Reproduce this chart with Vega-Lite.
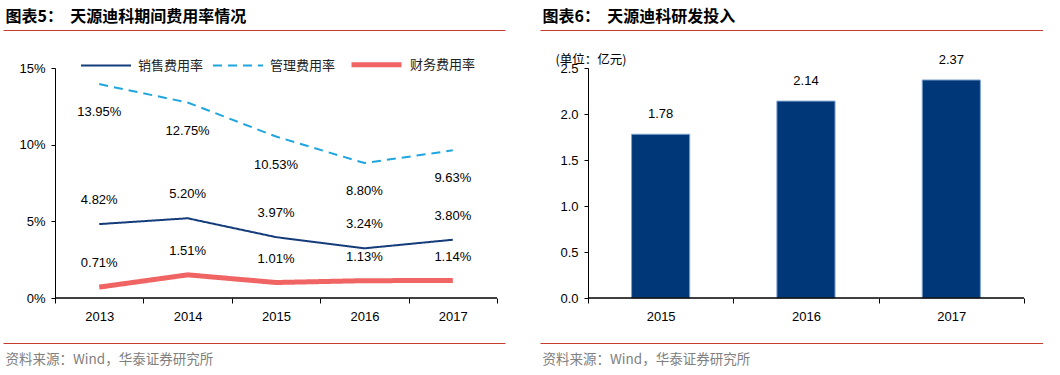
{
  "$schema": "https://vega.github.io/schema/vega-lite/v6.json",
  "padding": {"left": 3, "top": 8, "right": 0, "bottom": 0},
  "background": "white",
  "config": {"view": {"stroke": null}, "font": "Liberation Sans"},
  "bounds": "flush",
  "spacing": 35,
  "hconcat": [
    {
      "width": 502,
      "height": 230,
      "data": {"values": [
        {"year": "2013", "series": "销售费用率", "value": 0.0482},
        {"year": "2014", "series": "销售费用率", "value": 0.0520},
        {"year": "2015", "series": "销售费用率", "value": 0.0397},
        {"year": "2016", "series": "销售费用率", "value": 0.0324},
        {"year": "2017", "series": "销售费用率", "value": 0.0380},
        {"year": "2013", "series": "管理费用率", "value": 0.1395},
        {"year": "2014", "series": "管理费用率", "value": 0.1275},
        {"year": "2015", "series": "管理费用率", "value": 0.1053},
        {"year": "2016", "series": "管理费用率", "value": 0.0880},
        {"year": "2017", "series": "管理费用率", "value": 0.0963},
        {"year": "2013", "series": "财务费用率", "value": 0.0071},
        {"year": "2014", "series": "财务费用率", "value": 0.0151},
        {"year": "2015", "series": "财务费用率", "value": 0.0101},
        {"year": "2016", "series": "财务费用率", "value": 0.0113},
        {"year": "2017", "series": "财务费用率", "value": 0.0114}
      ]},
      "resolve": {"axis": {"x": "independent"}},
      "layer": [
        {
          "mark": {"type": "line", "strokeCap": "butt"},
          "encoding": {
            "x": {"field": "year", "type": "ordinal",
              "scale": {"paddingInner": 0, "paddingOuter": 0.3394, "align": 0.867},
              "axis": {"orient": "bottom", "domain": false, "tickBand": "extent", "ticks": true, "tickSize": 5, "tickColor": "black", "labelAngle": 0, "labelFontSize": 13, "labelFont": "Liberation Sans", "labelColor": "black", "labelPadding": 7, "title": null}},
            "y": {"field": "value", "type": "quantitative",
              "scale": {"domain": [0, 0.15], "nice": false},
              "axis": {"offset": -52, "values": [0, 0.05, 0.1, 0.15], "format": ".0%", "grid": false, "domainColor": "black", "tickColor": "black", "tickSize": 4, "labelFontSize": 13, "labelFont": "Liberation Sans", "labelColor": "black", "labelPadding": 6, "title": null}},
            "color": {"field": "series", "type": "nominal",
              "scale": {"domain": ["销售费用率", "管理费用率", "财务费用率"], "range": ["#143C7A", "#1FA6DE", "#F06464"]},
              "legend": {"orient": "none", "legendX": 77, "legendY": -31, "direction": "horizontal", "title": null, "symbolType": "stroke", "symbolSize": 2500, "labelFont": "Noto Sans CJK SC", "labelFontSize": 13, "labelColor": "#222222", "columnPadding": 5, "labelOffset": 6}},
            "strokeDash": {"field": "series", "type": "nominal",
              "scale": {"domain": ["销售费用率", "管理费用率", "财务费用率"], "range": [[1, 0], [9, 6], [1, 0]]},
              "legend": {"orient": "none", "legendX": 77, "legendY": -31, "direction": "horizontal", "title": null, "symbolType": "stroke", "symbolSize": 2500, "labelFont": "Noto Sans CJK SC", "labelFontSize": 13, "labelColor": "#222222", "columnPadding": 5, "labelOffset": 6}},
            "strokeWidth": {"field": "series", "type": "ordinal",
              "scale": {"type": "ordinal", "domain": ["销售费用率", "管理费用率", "财务费用率"], "range": [2, 2, 5]},
              "legend": {"orient": "none", "legendX": 77, "legendY": -31, "direction": "horizontal", "title": null, "symbolType": "stroke", "symbolSize": 2500, "labelFont": "Noto Sans CJK SC", "labelFontSize": 13, "labelColor": "#222222", "columnPadding": 5, "labelOffset": 6}}
          }
        },
        {
          "transform": [{"filter": "datum.series !== '管理费用率'"}],
          "mark": {"type": "text", "dy": -24, "fontSize": 13, "font": "Liberation Sans", "color": "black"},
          "encoding": {
            "x": {"field": "year", "type": "ordinal",
              "axis": {"orient": "bottom", "offset": 45, "domainColor": "#C83C2E", "domainWidth": 1, "ticks": false, "labels": false, "title": "资料来源：Wind，华泰证券研究所", "titleAnchor": "start", "titleAlign": "left", "titleBaseline": "top", "titlePadding": 9, "titleX": 2, "titleFont": "Noto Sans CJK SC", "titleFontSize": 13.5, "titleFontWeight": "normal", "titleColor": "#808080"}},
            "y": {"field": "value", "type": "quantitative"},
            "text": {"field": "value", "type": "quantitative", "format": ".2%"}
          }
        },
        {
          "transform": [{"filter": "datum.series === '管理费用率'"}],
          "mark": {"type": "text", "dy": 28, "fontSize": 13, "font": "Liberation Sans", "color": "black"},
          "encoding": {
            "x": {"field": "year", "type": "ordinal", "axis": null},
            "y": {"field": "value", "type": "quantitative"},
            "text": {"field": "value", "type": "quantitative", "format": ".2%"}
          }
        },
        {
          "transform": [{"filter": "datum.series === '销售费用率'"}],
          "mark": {"type": "bar", "fillOpacity": 0, "stroke": "black", "strokeWidth": 1},
          "encoding": {
            "x": {"field": "year", "type": "ordinal",
              "axis": {"orient": "top", "offset": 38, "domainColor": "#C83C2E", "domainWidth": 1, "ticks": false, "labels": false, "title": "图表5：\u00a0\u00a0天源迪科期间费用率情况", "titleAnchor": "start", "titleAlign": "left", "titleBaseline": "bottom", "titlePadding": 6, "titleX": 2, "titleFont": "Noto Sans CJK SC", "titleFontSize": 16, "titleFontWeight": "bold", "titleColor": "black"}},
            "y": {"datum": 0},
            "y2": {"datum": 0}
          }
        }
      ]
    },
    {
      "width": 503,
      "height": 230,
      "data": {"values": [
        {"year": "2015", "value": 1.78},
        {"year": "2016", "value": 2.14},
        {"year": "2017", "value": 2.37}
      ]},
      "resolve": {"axis": {"x": "independent"}},
      "layer": [
        {
          "mark": {"type": "bar", "width": {"band": 0.4}, "color": "#003778", "stroke": "#7FA3CE", "strokeWidth": 1},
          "encoding": {
            "x": {"field": "year", "type": "ordinal",
              "scale": {"paddingInner": 0, "paddingOuter": 0.2305, "align": 0.716},
              "axis": {"orient": "bottom", "domain": false, "tickBand": "extent", "ticks": true, "tickSize": 5, "tickColor": "black", "labelAngle": 0, "labelFontSize": 13, "labelFont": "Liberation Sans", "labelColor": "black", "labelPadding": 7, "title": null}},
            "y": {"field": "value", "type": "quantitative",
              "scale": {"domain": [0, 2.5], "nice": false},
              "axis": {"offset": -48, "values": [0, 0.5, 1, 1.5, 2, 2.5], "format": ".1f", "grid": false, "domainColor": "black", "tickColor": "black", "tickSize": 4, "labelFontSize": 13, "labelFont": "Liberation Sans", "labelColor": "black", "labelPadding": 6,
                "title": "(单位：亿元)", "titleAngle": 0, "titleAlign": "left", "titleBaseline": "middle", "titleX": -33, "titleY": -9, "titleFont": "Noto Sans CJK SC", "titleFontSize": 12.5, "titleFontWeight": "normal", "titleColor": "black"}}
          }
        },
        {
          "mark": {"type": "text", "dy": -20, "fontSize": 13, "font": "Liberation Sans", "color": "black"},
          "encoding": {
            "x": {"field": "year", "type": "ordinal",
              "axis": {"orient": "bottom", "offset": 45, "domainColor": "#C83C2E", "domainWidth": 1, "ticks": false, "labels": false, "title": "资料来源：Wind，华泰证券研究所", "titleAnchor": "start", "titleAlign": "left", "titleBaseline": "top", "titlePadding": 9, "titleX": 2, "titleFont": "Noto Sans CJK SC", "titleFontSize": 13.5, "titleFontWeight": "normal", "titleColor": "#808080"}},
            "y": {"field": "value", "type": "quantitative"},
            "text": {"field": "value", "type": "quantitative", "format": ".2f"}
          }
        },
        {
          "mark": {"type": "bar", "fillOpacity": 0, "stroke": "black", "strokeWidth": 1},
          "encoding": {
            "x": {"field": "year", "type": "ordinal",
              "axis": {"orient": "top", "offset": 38, "domainColor": "#C83C2E", "domainWidth": 1, "ticks": false, "labels": false, "title": "图表6：\u00a0\u00a0天源迪科研发投入", "titleAnchor": "start", "titleAlign": "left", "titleBaseline": "bottom", "titlePadding": 6, "titleX": 2, "titleFont": "Noto Sans CJK SC", "titleFontSize": 16, "titleFontWeight": "bold", "titleColor": "black"}},
            "y": {"datum": 0},
            "y2": {"datum": 0}
          }
        }
      ]
    }
  ]
}
